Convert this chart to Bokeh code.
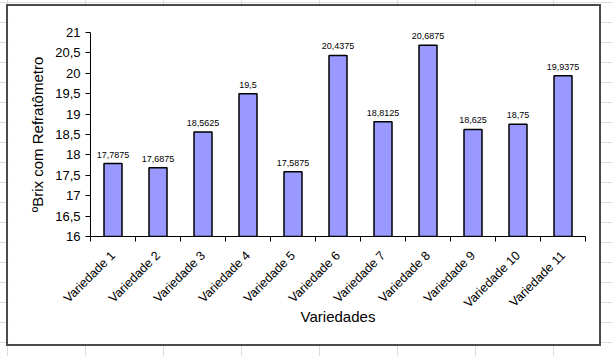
import math
from bokeh.plotting import figure
from bokeh.layouts import column
from bokeh.models import ColumnDataSource, FixedTicker, Range1d
from bokeh.core.properties import value
from bokeh.embed import file_html
from bokeh.resources import INLINE

categories = ["Variedade 1", "Variedade 2", "Variedade 3", "Variedade 4", "Variedade 5",
              "Variedade 6", "Variedade 7", "Variedade 8", "Variedade 9", "Variedade 10",
              "Variedade 11"]
values = [17.7875, 17.6875, 18.5625, 19.5, 17.5875, 20.4375, 18.8125, 20.6875,
          18.625, 18.75, 19.9375]
y_ticks = [16, 16.5, 17, 17.5, 18, 18.5, 19, 19.5, 20, 20.5, 21]

xs = list(range(1, len(categories) + 1))
labels = [("%g" % v).replace(".", ",") for v in values]
src = ColumnDataSource(dict(x=xs, top=values, label=labels))

p = figure(width=595, height=342, output_backend="svg", toolbar_location=None,
           x_range=Range1d(0.5, len(categories) + 0.5), y_range=Range1d(16, 21),
           min_border_left=82, min_border_right=18, min_border_top=26, min_border_bottom=112,
           margin=(4, 0, 0, 6))
p.styles = {"border": "2px solid #4a4a4a"}
p.outline_line_color = None
p.xgrid.visible = False
p.ygrid.visible = False
p.background_fill_color = "white"
p.border_fill_color = "white"

p.vbar(x="x", top="top", bottom=16, width=0.4, source=src,
       fill_color="#9999FF", line_color="black", line_width=1.5)
p.text(x="x", y="top", text="label", source=src, text_align="center",
       text_baseline="bottom", y_offset=-6, text_font=value("Liberation Sans"),
       text_font_size="9px", text_color="black")

# y axis
p.yaxis.ticker = FixedTicker(ticks=y_ticks)
p.yaxis.major_label_overrides = {t: ("%g" % t).replace(".", ",") for t in y_ticks}
p.yaxis.major_label_text_font = "Liberation Sans"
p.yaxis.major_label_text_font_size = "13px"
p.yaxis.major_label_text_color = "black"
p.yaxis.major_tick_out = 5
p.yaxis.major_tick_in = 0
p.yaxis.minor_tick_out = 0
p.yaxis.minor_tick_in = 0
p.yaxis.axis_line_color = "black"
p.yaxis.major_tick_line_color = "black"
p.yaxis.axis_label = "ºBrix com Refratômetro"
p.yaxis.axis_label_standoff = 6
p.yaxis.axis_label_text_font = "Liberation Sans"
p.yaxis.axis_label_text_font_size = "15px"
p.yaxis.axis_label_text_font_style = "normal"
p.yaxis.axis_label_text_color = "black"

# x axis
p.xaxis.ticker = FixedTicker(ticks=xs, minor_ticks=[i + 0.5 for i in range(0, len(xs) + 1)])
p.xaxis.major_label_overrides = {x: c for x, c in zip(xs, categories)}
p.xaxis.major_label_orientation = math.pi / 4
p.xaxis.major_label_standoff = 12
p.xaxis.major_label_text_font = "Liberation Sans"
p.xaxis.major_label_text_font_size = "12.5px"
p.xaxis.major_label_text_color = "black"
p.xaxis.major_tick_out = 0
p.xaxis.major_tick_in = 0
p.xaxis.minor_tick_out = 5
p.xaxis.minor_tick_in = 0
p.xaxis.minor_tick_line_color = "black"
p.xaxis.axis_line_color = "black"
p.xaxis.axis_label = "Variedades"
p.xaxis.axis_label_standoff = -10
p.xaxis.axis_label_text_font = "Liberation Sans"
p.xaxis.axis_label_text_font_size = "15px"
p.xaxis.axis_label_text_font_style = "normal"
p.xaxis.axis_label_text_color = "black"

page = column(p, width=612, height=356, styles={
    "background-color": "white",
    "background-image": "linear-gradient(#dcdcdc 1px, transparent 1px), "
                        "linear-gradient(90deg, #dcdcdc 1px, transparent 1px)",
    "background-size": "78px 20px",
    "background-position": "7px 2px",
})

open("out.html", "w").write(file_html(page, INLINE))
